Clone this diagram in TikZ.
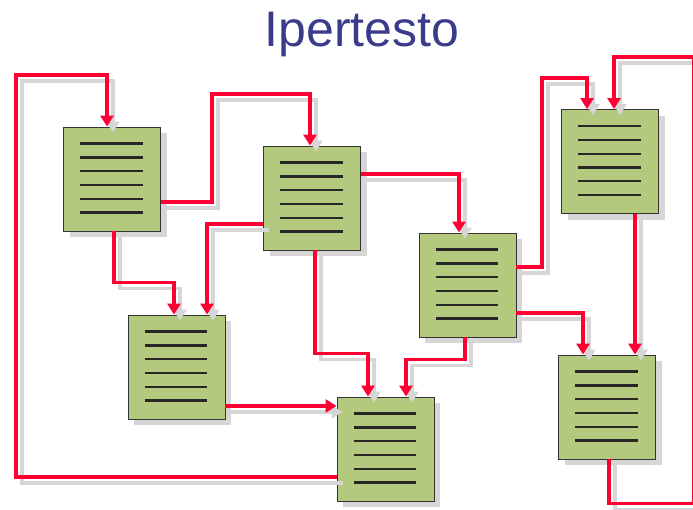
\documentclass[tikz,border=0pt]{standalone}
\usepackage{fontspec}
\setmainfont{Liberation Sans}
\usepackage{tikz}
\usetikzlibrary{arrows.meta}
\usetikzlibrary{shadows}

\definecolor{linkred}{RGB}{255,0,51}
\definecolor{pagegreen}{RGB}{179,201,125}
\definecolor{titleblue}{RGB}{59,59,140}
\definecolor{shadowgray}{RGB}{214,214,214}

\begin{document}
\begin{tikzpicture}
 [ x=1pt, y=-1pt
 , hpage/.style={draw=black!80, line width=0.9pt, fill=pagegreen,
     minimum width=97pt, minimum height=104pt, inner sep=0pt,
     drop shadow={shadow xshift=6pt, shadow yshift=-6pt, fill=shadowgray, opacity=1}}
 , textline/.style={draw=black!85, line width=2.3pt}
 , hlink/.style={draw=linkred, line width=3.6pt,
     -{Triangle[length=11pt,width=13pt]},
     preaction={draw=shadowgray, line width=3.6pt,
       transform canvas={xshift=6pt,yshift=-6pt}}}
 ]
  \useasboundingbox (0,0) rectangle (693,509);

  \node[anchor=base, text=titleblue, font=\fontsize{50}{60}\selectfont]
    (title) at (362,46) {Ipertesto};

  % pages
  \node[hpage] (p1) at (112,179)   {};
  \node[hpage] (p2) at (312,198)   {};
  \node[hpage] (p3) at (467.5,285) {};
  \node[hpage] (p4) at (610,161.5) {};
  \node[hpage] (p5) at (176.5,367) {};
  \node[hpage] (p6) at (385.5,449) {};
  \node[hpage] (p7) at (607,407)   {};

  % six lines of text on every page
  \foreach \p in {p1,p2,p3,p4,p5,p6,p7}
    \foreach \k in {0,...,5}
      \draw[textline]
        ([xshift=17pt,yshift=-17pt-\k*13.8pt]\p.north west)
        -- ([xshift=-18pt,yshift=-17pt-\k*13.8pt]\p.north east);

  % links
  \draw[hlink] ([yshift=-28pt]p6.west) -| (16,75) -| ([xshift=-5pt]p1.north);
  \draw[hlink] ([yshift=-23pt]p1.east) -| (212,94) -| ([xshift=-2pt]p2.north);
  \draw[hlink] ([xshift=2pt]p1.south) -- ++(0,51) -| ([xshift=-2.5pt]p5.north);
  \draw[hlink] ([yshift=-26pt]p2.west) -| ([xshift=30.5pt]p5.north);
  \draw[hlink] ([yshift=24pt]p2.east) -| ([xshift=-8.5pt]p3.north);
  \draw[hlink] ([xshift=3pt]p2.south) -- ++(0,103) -| ([xshift=-17.5pt]p6.north);
  \draw[hlink] ([xshift=-2.5pt]p3.south) -- ++(0,22) -| ([xshift=20.5pt]p6.north);
  \draw[hlink] ([yshift=-39pt]p5.east) -- ([yshift=43pt]p6.west);
  \draw[hlink] ([yshift=18pt]p3.east) -| (542,78) -| ([xshift=-23pt]p4.north);
  \draw[hlink] ([yshift=-28pt]p3.east) -| ([xshift=-24pt]p7.north);
  \draw[hlink] ([xshift=25pt]p4.south) -- ([xshift=28pt]p7.north);
  \draw[hlink] ([xshift=2pt]p7.south) -- ++(0,44) -| (694,57) -| ([xshift=4pt]p4.north);
\end{tikzpicture}
\end{document}
